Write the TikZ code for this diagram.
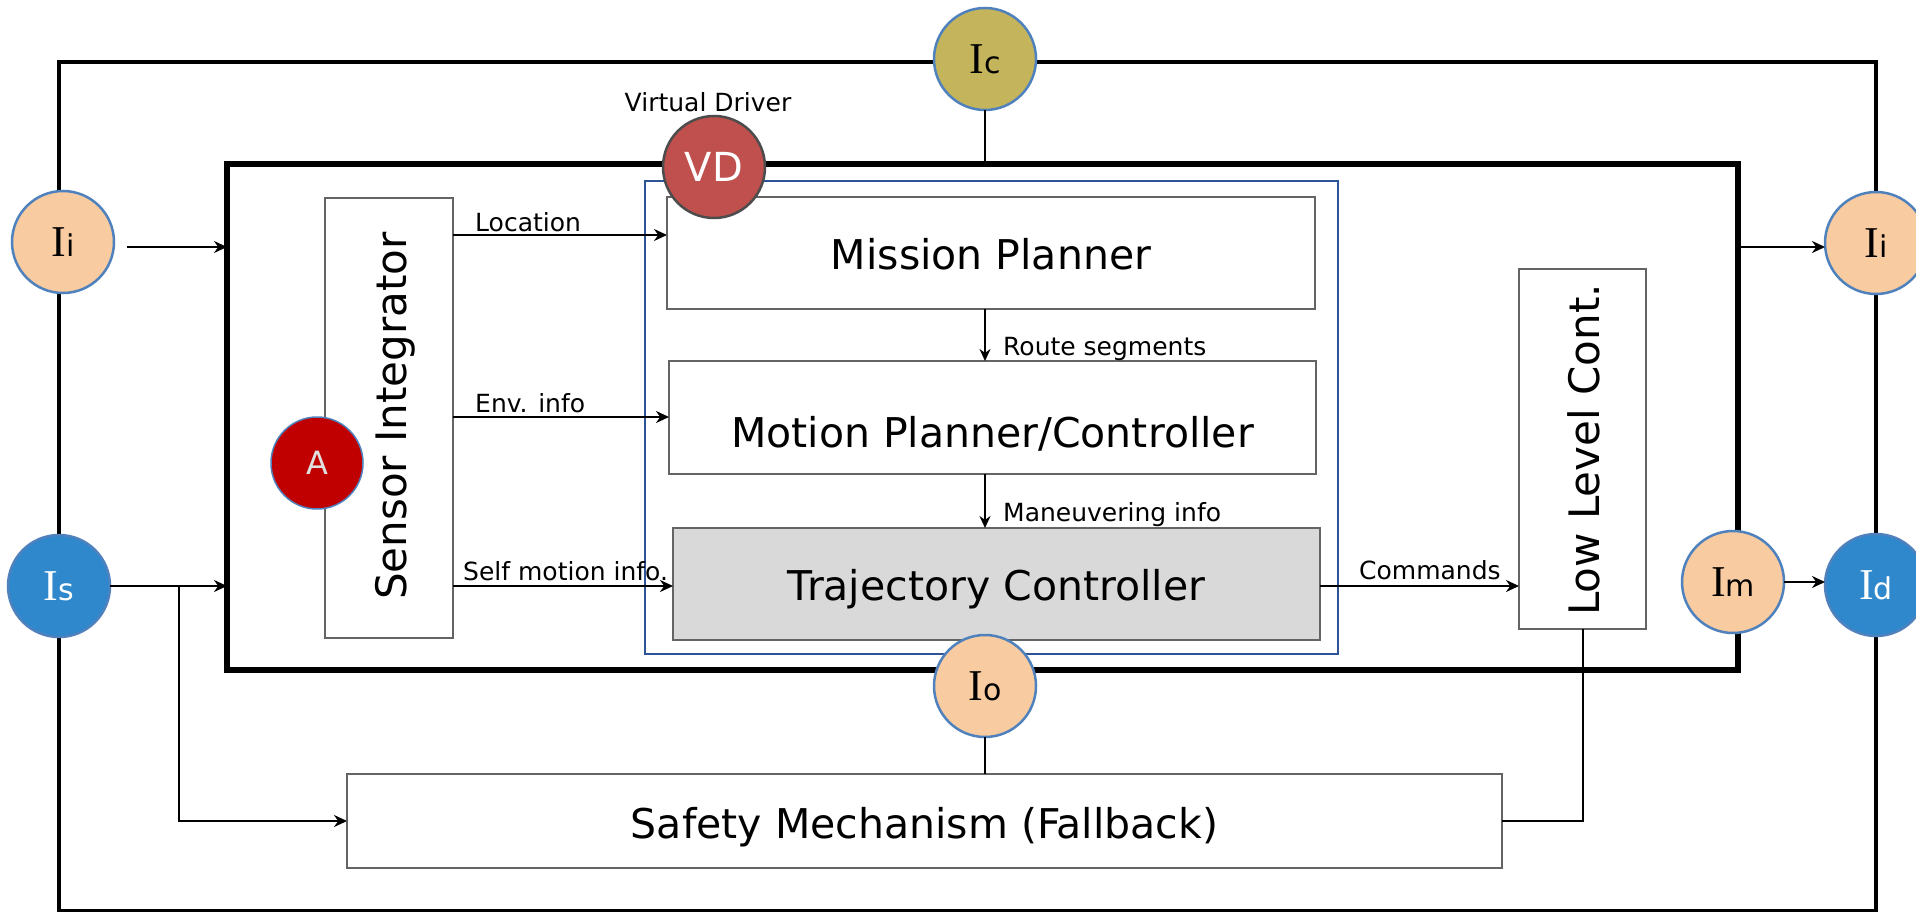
\documentclass[tikz,border=0pt]{standalone}
\usepackage{fontspec}
\setmainfont{DejaVu Sans}
\newfontfamily\capIfont{Liberation Serif}
\usetikzlibrary{arrows.meta}
\definecolor{peach}{HTML}{F8CBA0}
\definecolor{olive}{HTML}{C4B55C}
\definecolor{ifblue}{HTML}{2E88CB}
\definecolor{ringblue}{HTML}{4F81BD}
\definecolor{vdred}{HTML}{C0504D}
\definecolor{ared}{HTML}{C00000}
\definecolor{framenavy}{HTML}{2F5496}
\definecolor{boxgray}{HTML}{646464}
\definecolor{tcfill}{HTML}{D9D9D9}
\newcommand\fsz[1]{\fontsize{#1}{#1}\selectfont}
\newcommand\iface[1]{{\capIfont\fsz{44}I}{\fsz{30}#1}}
\begin{document}
\begin{tikzpicture}[x=1pt,y=-1pt,
  frame/.style={draw=black, inner sep=0pt, outer sep=0pt},
  block/.style={draw=boxgray, line width=2pt, inner sep=0pt, outer sep=0pt, fill=white},
  bigtext/.style={inner sep=0pt, font=\fsz{41}, text height=30pt, text depth=0pt},
  sidetext/.style={inner sep=0pt, font=\fsz{42}, text height=31pt, text depth=0pt, rotate=90},
  smalltext/.style={inner sep=0pt, font=\fsz{25}, anchor=base west},
  port/.style={circle, minimum size=102pt, inner sep=0pt, outer sep=0pt, draw=ringblue, line width=2.5pt, text depth=0pt},
  arr/.style={draw=black, line width=2.5pt, -{Stealth[length=13pt,width=12pt]}},
  thinarr/.style={draw=black, line width=2pt, -{Stealth[length=12pt,width=11pt]}},
  wire/.style={draw=black, line width=2pt}
]
\useasboundingbox (0,0) rectangle (1916,912);

% frames
\node[frame, line width=3.5pt, minimum width=1817pt, minimum height=849pt] (outer) at (967.5,486.5) {};
\node[frame, line width=6pt, minimum width=1511pt, minimum height=506pt] (inner) at (982.5,417) {};
\node[frame, draw=framenavy, line width=2pt, minimum width=693pt, minimum height=473pt] (vdbox) at (991.5,417.5) {};

% blocks
\node[block, minimum width=128pt, minimum height=440pt] (si) at (389,418) {};
\node[sidetext] (sit) at (391,416) {Sensor Integrator};
\node[block, minimum width=648pt, minimum height=112pt] (mp) at (991,253) {};
\node[bigtext] (mpt) at (991,254) {Mission Planner};
\node[block, minimum width=647pt, minimum height=113pt] (mpc) at (992.5,417.5) {};
\node[bigtext] (mpct) at (992.5,432) {Motion Planner/Controller};
\node[block, fill=tcfill, minimum width=647pt, minimum height=112pt] (tc) at (996.5,584) {};
\node[bigtext] (tct) at (996.5,585) {Trajectory Controller};
\node[block, minimum width=127pt, minimum height=360pt] (llc) at (1582.5,449) {};
\node[sidetext] (llct) at (1584,450) {Low Level Cont.};
\node[block, minimum width=1155pt, minimum height=94pt] (sm) at (924.5,821) {};
\node[bigtext] (smt) at (924.5,823) {Safety Mechanism (Fallback)};

% helper levels
\coordinate (yloc) at (0,235);
\coordinate (yenv) at (0,417);
\coordinate (yself) at (0,586);
\coordinate (xmid) at (985,0);
\coordinate (yleft) at (0,247);
\coordinate (br) at (179,586);

% circles on the frames
\node[port, fill=olive] (ic) at (985,59) {\iface{c}};
\node[port, fill=peach] (iil) at (63,242) {\iface{i}};
\node[port, fill=peach] (iir) at (1876,243) {\iface{i}};
\node[port, fill=ifblue, text=white] (is) at (59,586) {\iface{s}};
\node[port, fill=ifblue, text=white] (id) at (1876,585) {\iface{d}};
\node[port, fill=peach] (im) at (1733,582) {\iface{m}};
\node[port, fill=peach] (io) at (985,686) {\iface{o}};
\node[port, fill=vdred, draw=black!70, text=white, font=\fsz{40}] (vd) at (714,167) {VD};
\node[port, minimum size=92pt, fill=ared, line width=1.5pt, text=black!12, font=\fsz{32}] (a) at (317,463) {A};

% connectors
\draw[wire] (ic.south) -- (ic.south |- inner.north);
\draw[arr] ([xshift=13pt]iil.east |- yleft) -- (inner.west |- yleft);
\draw[arr] (is.east) -- (is.east -| inner.west);
\draw[arr] (br) |- (sm.west);
\draw[arr] (inner.east |- yleft) -- (iir.west |- yleft);
\draw[arr] (im.east) -- (im.east -| id.west);
\draw[arr] (si.east |- yloc) -- (mp.west |- yloc);
\draw[arr] (si.east |- yenv) -- (mpc.west |- yenv);
\draw[arr] (si.east |- yself) -- (tc.west |- yself);
\draw[thinarr] (mp.south -| xmid) -- (mpc.north -| xmid);
\draw[thinarr] (mpc.south -| xmid) -- (tc.north -| xmid);
\draw[arr] (tc.east |- yself) -- (llc.west |- yself);
\draw[wire] (llc.south) |- (sm.east);
\draw[wire] (io.south) -- (io.south |- sm.north);

% labels
\node[smalltext] (lloc) at (475,231) {Location};
\node[smalltext] (lenv) at (475,412) {Env. info};
\node[smalltext] (lself) at (463,580) {Self motion info.};
\node[smalltext] (lroute) at (1003,355) {Route segments};
\node[smalltext] (lman) at (1003,521) {Maneuvering info};
\node[smalltext] (lcmd) at (1359,579) {Commands};
\node[inner sep=0pt, font=\fsz{25}, anchor=base] (lvd) at (708,112) {Virtual Driver};
\end{tikzpicture}
\end{document}
